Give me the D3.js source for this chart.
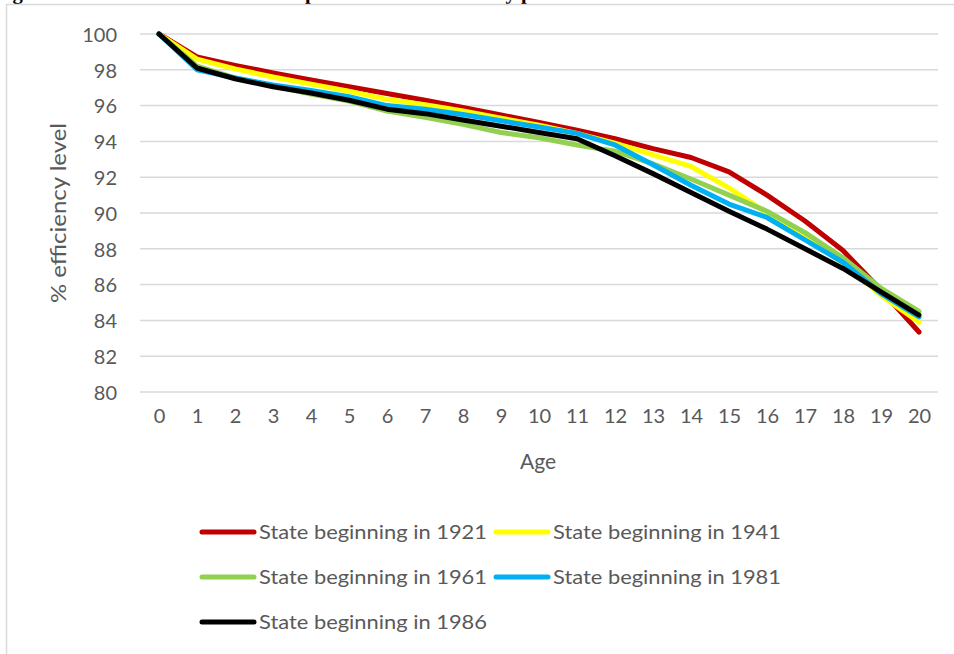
<!DOCTYPE html>
<html>
<head>
<meta charset="utf-8">
<script src="https://cdn.jsdelivr.net/npm/d3@7"></script>
<style>
  html, body { margin: 0; padding: 0; background: #fff; }
  svg { display: block; }
</style>
</head>
<body>
<div id="chart"></div>
<script>
const ages = d3.range(0, 21);
const yTicks = [80, 82, 84, 86, 88, 90, 92, 94, 96, 98, 100];
const seriesNames = ["State beginning in 1921", "State beginning in 1941", "State beginning in 1961", "State beginning in 1981", "State beginning in 1986"];
const seriesColors = ["#C00000", "#FFFF00", "#92D050", "#00B0F0", "#000000"];
const s1921 = [100, 98.72, 98.25, 97.82, 97.43, 97.05, 96.68, 96.3, 95.9, 95.48, 95.06, 94.63, 94.15, 93.6, 93.1, 92.3, 91.0, 89.55, 87.9, 85.7, 83.35];
const s1941 = [100, 98.6, 98.05, 97.6, 97.2, 96.8, 96.35, 96.05, 95.7, 95.3, 94.9, 94.45, 93.9, 93.25, 92.6, 91.4, 90.0, 88.7, 87.2, 85.4, 83.9];
const s1961 = [100, 98.2, 97.55, 97.1, 96.65, 96.25, 95.7, 95.35, 94.95, 94.5, 94.2, 93.8, 93.45, 92.75, 91.9, 91.0, 90.1, 88.9, 87.5, 85.8, 84.5];
const s1981 = [100, 98.0, 97.55, 97.15, 96.85, 96.5, 96.0, 95.8, 95.5, 95.15, 94.8, 94.45, 93.8, 92.7, 91.55, 90.5, 89.75, 88.5, 87.25, 85.5, 84.2];
const s1986 = [100, 98.1, 97.5, 97.05, 96.7, 96.3, 95.8, 95.55, 95.2, 94.85, 94.5, 94.15, 93.2, 92.2, 91.15, 90.1, 89.1, 88.0, 86.9, 85.6, 84.3];
const seriesValues = [s1921, s1941, s1961, s1981, s1986];
const titleText = "Figure 4: Estimated state-level comparison of the efficiency profiles";

const W = 954, H = 654;
const svg = d3.select("#chart").append("svg").attr("width", W).attr("height", H);
const font = "Lato, 'Open Sans', sans-serif";
const textColor = "#595959";

// document title above the chart (clipped by the page edge, as in the source)
svg.append("text")
  .attr("x", -6).attr("y", -1)
  .attr("font-family", "'Liberation Serif', 'Times New Roman', serif")
  .attr("font-weight", "bold")
  .attr("font-size", 20.7)
  .attr("fill", "#000")
  .text(titleText);

// chart frame
svg.append("rect")
  .attr("x", 6.5).attr("y", 4.5).attr("width", 980).attr("height", 700)
  .attr("fill", "none").attr("stroke", "#d9d9d9").attr("stroke-width", 1.5);

const x = d3.scalePoint().domain(ages).range([140, 938]).padding(0.5);
const y = d3.scaleLinear().domain([80, 100]).range([392, 34]);

// gridlines
svg.append("g").selectAll("line").data(yTicks).join("line")
  .attr("x1", 140).attr("x2", 938)
  .attr("y1", d => y(d)).attr("y2", d => y(d))
  .attr("stroke", "#d9d9d9").attr("stroke-width", 1.5);

// y axis labels
const yAxis = d3.axisLeft(y).tickValues(yTicks).tickSize(0).tickPadding(0);
const gy = svg.append("g").attr("transform", "translate(117,0)").call(yAxis);
gy.select(".domain").remove();
gy.selectAll("text").attr("font-family", font).attr("font-size", 20).attr("fill", textColor).attr("dy", "0.36em");

// x axis labels
const xAxis = d3.axisBottom(x).tickSize(0).tickPadding(0);
const gx = svg.append("g").attr("transform", "translate(0,409)").call(xAxis);
gx.select(".domain").remove();
gx.selectAll("text").attr("font-family", font).attr("font-size", 20).attr("fill", textColor).attr("dy", "0.71em");

// axis titles
svg.append("text").attr("x", 538).attr("y", 469).attr("text-anchor", "middle")
  .attr("font-family", font).attr("font-size", 21).attr("fill", textColor).text("Age");
svg.append("text").attr("transform", "translate(66,213) rotate(-90)").attr("text-anchor", "middle")
  .attr("font-family", font).attr("font-size", 21).attr("fill", textColor)
  .attr("textLength", 180).attr("lengthAdjust", "spacingAndGlyphs")
  .text("% efficiency level");

// lines
const line = d3.line().x((d, i) => x(ages[i])).y(d => y(d));
svg.append("g").selectAll("path").data(seriesValues).join("path")
  .attr("d", d => line(d))
  .attr("fill", "none")
  .attr("stroke", (d, i) => seriesColors[i])
  .attr("stroke-width", 5)
  .attr("stroke-linecap", "round")
  .attr("stroke-linejoin", "round");

// legend
const legendPos = [[200, 532], [494, 532], [200, 577], [494, 577], [200, 622]];
const lg = svg.append("g").selectAll("g").data(seriesNames).join("g")
  .attr("transform", (d, i) => `translate(${legendPos[i][0]},${legendPos[i][1]})`);
lg.append("line").attr("x1", 2).attr("x2", 54).attr("y1", 0).attr("y2", 0)
  .attr("stroke", (d, i) => seriesColors[i]).attr("stroke-width", 5).attr("stroke-linecap", "round");
lg.append("text").attr("x", 59).attr("y", 0).attr("dy", "0.36em")
  .attr("font-family", font).attr("font-size", 20).attr("fill", textColor)
  .attr("textLength", 228).attr("lengthAdjust", "spacingAndGlyphs")
  .text(d => d);
</script>
</body>
</html>
